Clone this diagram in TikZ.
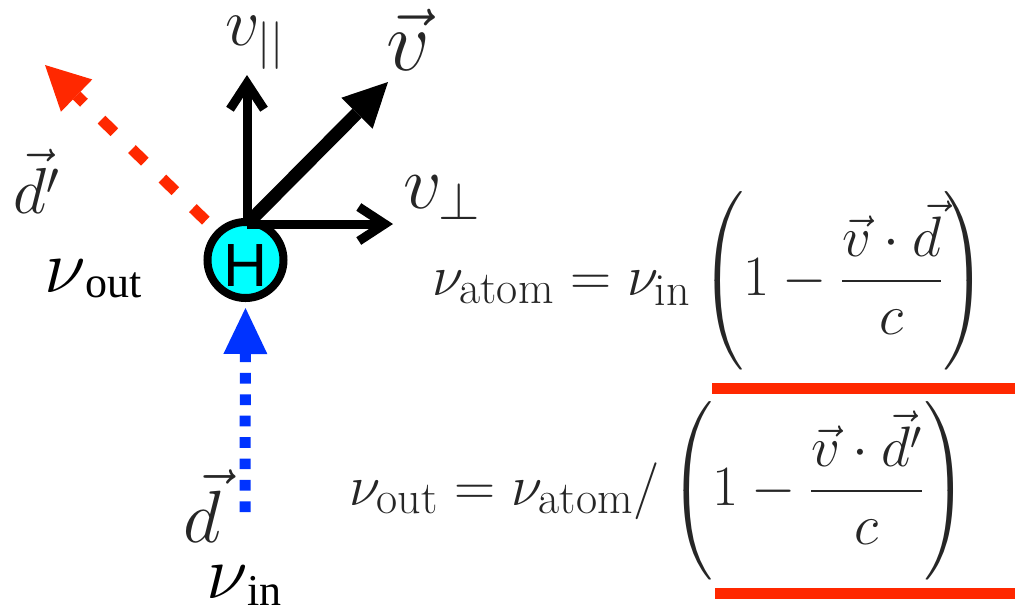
\RequirePackage{fix-cm}
\documentclass[tikz,border=0pt]{standalone}
\usepackage{amsmath}
\usepackage{exscale}
\usepackage{fontspec}
\usetikzlibrary{arrows.meta}
\newfontfamily\tms{Liberation Serif}
\newfontfamily\arl{Liberation Sans}
\newcommand\sbx[1]{\mbox{\fontsize{23}{24}\selectfont #1}}
\definecolor{myred}{RGB}{255,40,0}
\definecolor{myblue}{RGB}{0,51,255}
\definecolor{mycyan}{RGB}{0,255,255}
\tikzset{
  lbl/.style={anchor=base west, inner sep=0pt, outer sep=0pt, text=black!85},
  eqn/.style={anchor=base west, inner sep=0pt, outer sep=0pt, text=black!85, font=\fontsize{28.5}{34}\selectfont},
  atom/.style={circle, draw=black, line width=4pt, fill=mycyan, minimum size=38pt, inner sep=0pt, text height=26pt, text depth=0pt, font=\arl\fontsize{30.5}{36}\selectfont},
  barb/.style={line width=4.5pt, -{Straight Barb[length=13pt, width=17pt]}},
  velo/.style={line width=6.5pt, -{Triangle[length=22pt, width=22pt, line width=0pt]}},
  outray/.style={myred, line width=5.5pt, dash pattern=on 9pt off 12.2pt, dash phase=14.25pt, -{Triangle[length=22pt, width=22.5pt, line width=0pt]}},
  inray/.style={myblue, line width=5.5pt, dash pattern=on 5.35pt off 5.35pt, -{Triangle[length=23pt, width=22pt, line width=0pt]}},
  redbar/.style={myred, line width=5.5pt}
}
\begin{document}
\begin{tikzpicture}[x=0.5pt, y=-0.5pt]
\useasboundingbox (0,0) rectangle (1015,607);
% atom
\node[atom] (H) at (245.5,260) {H};
% coordinates
\coordinate (o) at (247,224);
\coordinate (vpar) at (247,75);
\coordinate (vperp) at (393,224);
\coordinate (vtip) at (388,82);
\coordinate (dtip) at (45,65);
\coordinate (din) at (245,512);
% rays
\draw[outray] (H.135) -- (dtip);
\draw[inray, shorten >=3pt] (din) -- (H.south);
% velocity arrows
\draw[barb] (o) -- (vpar);
\draw[barb] (o) -- (vperp);
\draw[velo] (o) -- (vtip);
% labels
\node[lbl, font=\fontsize{34}{40}\selectfont] (lpar) at (225,45) {$v_{||}$};
\node[lbl, font=\fontsize{43}{50}\selectfont] (lv) at (386,70) {$\vec{v}$};
\node[lbl, font=\fontsize{38}{44}\selectfont] (lperp) at (403,208) {$v_\perp$};
\node[lbl, font=\fontsize{32.5}{38}\selectfont] (ldp) at (13,213) {$\vec{d'}$};
\node[lbl, font=\fontsize{37}{44}\selectfont] (ld) at (183,542) {$\vec{d}$};
\node[lbl, text=black, font=\fontsize{38}{44}\selectfont] (lnout) at (44,292) {$\nu$\raisebox{-2.5pt}{\tms\fontsize{22}{26}\selectfont out}};
\node[lbl, text=black, font=\fontsize{38}{44}\selectfont] (lnin) at (206,598) {$\nu$\raisebox{-3.5pt}{\tms\fontsize{22}{26}\selectfont in}};
% equations
\node[eqn] (eqa) at (432,295) {$\displaystyle \nu_{\sbx{atom}} = \nu_{\sbx{in}} \left(1 - \frac{\vec{v}\cdot\vec{d}}{c}\right)$};
\node[eqn] (eqb) at (349,505) {$\displaystyle \nu_{\sbx{out}} = \nu_{\sbx{atom}}/ \left(1 - \frac{\vec{v}\cdot\vec{d'}}{c}\right)$};
% red bars
\coordinate (r1a) at (712,388.5);
\coordinate (r1b) at (1015,388.5);
\coordinate (r2a) at (715,593.5);
\coordinate (r2b) at (1015,593.5);
\draw[redbar] (r1a) -- (r1b);
\draw[redbar] (r2a) -- (r2b);
\end{tikzpicture}
\end{document}
